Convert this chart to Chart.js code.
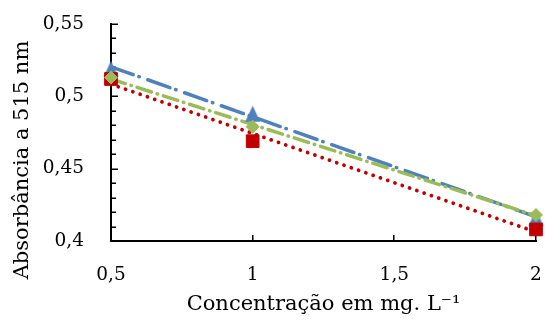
<!DOCTYPE html>
<html><head><meta charset="utf-8">
<script src="https://cdn.jsdelivr.net/npm/chart.js@4/dist/chart.umd.min.js"></script>
<style>html,body{margin:0;padding:0;background:#fff;}#wrap{width:546px;height:323px;}</style>
</head><body><div id="wrap"><canvas id="c" width="546" height="323"></canvas></div>
<script>
const xValues = [0.5, 1, 2];
const blueValues = [0.519, 0.488, 0.416];
const redValues = [0.512, 0.469, 0.408];
const greenValues = [0.513, 0.479, 0.418];
const xTickValues = [0.5, 1, 1.5, 2];
const xTickLabels = ['0,5', '1', '1,5', '2'];
const yTickValues = [0.4, 0.45, 0.5, 0.55];
const yTickLabels = ['0,4', '0,45', '0,5', '0,55'];
const xTitle = 'Concentração em mg. L⁻¹';
const yTitle = 'Absorbância a 515 nm';

const BLUE = '#4F81BD', RED = '#C00000', GREEN = '#9BBB59';
const FONT = '"DejaVu Serif", serif';

function pts(xs, ys) { return xs.map((x, i) => ({x: x, y: ys[i]})); }
function trend(xs, ys) {
  const n = xs.length;
  const mx = xs.reduce((a, b) => a + b, 0) / n;
  const my = ys.reduce((a, b) => a + b, 0) / n;
  let sxy = 0, sxx = 0;
  for (let i = 0; i < n; i++) { sxy += (xs[i] - mx) * (ys[i] - my); sxx += (xs[i] - mx) * (xs[i] - mx); }
  const b = sxy / sxx, a = my - b * mx;
  const x0 = Math.min(...xs), x1 = Math.max(...xs);
  return [{x: x0, y: a + b * x0}, {x: x1, y: a + b * x1}];
}

// Excel-like isosceles triangle marker
function triangleMarker(w, h, color) {
  const c = document.createElement('canvas');
  c.width = w + 2; c.height = h + 2;
  const g = c.getContext('2d');
  g.fillStyle = color;
  g.beginPath();
  g.moveTo(c.width / 2, 1);
  g.lineTo(c.width - 1, c.height - 1);
  g.lineTo(1, c.height - 1);
  g.closePath();
  g.fill();
  return c;
}

const innerTicks = {
  id: 'innerTicks',
  beforeDatasetsDraw(chart) {
    const ctx = chart.ctx, xs = chart.scales.x, ys = chart.scales.y, area = chart.chartArea;
    ctx.save();
    ctx.strokeStyle = '#000';
    ctx.lineWidth = 1.5;
    const step = (yTickValues[1] - yTickValues[0]) / 5;
    const nMinor = Math.round((yTickValues[yTickValues.length - 1] - yTickValues[0]) / step);
    for (let i = 0; i <= nMinor; i++) {
      const v = yTickValues[0] + i * step;
      const p = Math.round(ys.getPixelForValue(v)) + 0.25;
      const len = (i % 5 === 0) ? 7 : 5;
      ctx.beginPath(); ctx.moveTo(area.left, p); ctx.lineTo(area.left + len, p); ctx.stroke();
    }
    xTickValues.forEach(v => {
      const p = Math.round(xs.getPixelForValue(v)) - 0.25;
      ctx.beginPath(); ctx.moveTo(p, area.bottom); ctx.lineTo(p, area.bottom - 6); ctx.stroke();
    });
    ctx.restore();
  },
  afterDraw(chart) {
    const ctx = chart.ctx;
    ctx.save();
    ctx.translate(23, 160);
    ctx.rotate(-Math.PI / 2);
    ctx.font = '21px ' + FONT;
    ctx.fillStyle = '#000';
    ctx.textAlign = 'center';
    ctx.textBaseline = 'middle';
    ctx.fillText(yTitle, 0, 0);
    ctx.restore();
  }
};

new Chart(document.getElementById('c'), {
  type: 'scatter',
  data: {
    datasets: [
      {label: 'Série 3', data: pts(xValues, greenValues), pointStyle: 'rectRot', pointRadius: 6.5,
       backgroundColor: GREEN, borderColor: GREEN, pointBorderWidth: 1, order: 1, clip: false},
      {label: 'Série 2', data: pts(xValues, redValues), pointStyle: 'rect', pointRadius: 9,
       backgroundColor: RED, borderColor: RED, pointBorderWidth: 1, order: 2, clip: false},
      {label: 'Série 1', data: pts(xValues, blueValues), pointStyle: triangleMarker(15, 16, BLUE), pointRadius: 8,
       backgroundColor: BLUE, borderColor: BLUE, pointBorderWidth: 1, order: 3, clip: false},
      {label: 'Tendência 3', data: trend(xValues, greenValues), showLine: true, pointRadius: 0,
       borderColor: GREEN, borderWidth: 3.5, borderDash: [15, 6, 0.5, 6], borderCapStyle: 'round', order: 4, clip: false},
      {label: 'Tendência 2', data: trend(xValues, redValues), showLine: true, pointRadius: 0,
       borderColor: RED, borderWidth: 3.8, borderDash: [0.01, 7.7], borderCapStyle: 'round', order: 5, clip: false},
      {label: 'Tendência 1', data: trend(xValues, blueValues), showLine: true, pointRadius: 0,
       borderColor: BLUE, borderWidth: 3.5, borderDash: [23.5, 6, 0.5, 9], borderCapStyle: 'round', order: 6, clip: false}
    ]
  },
  options: {
    responsive: false,
    animation: false,
    devicePixelRatio: 1,
    font: {family: FONT},
    layout: {padding: {top: 24, right: 8, left: 0, bottom: 0}},
    plugins: {legend: {display: false}, tooltip: {enabled: false}},
    scales: {
      x: {
        type: 'linear', min: xTickValues[0], max: xTickValues[xTickValues.length - 1],
        afterBuildTicks(s) { s.ticks = xTickValues.map(v => ({value: v})); },
        afterFit(s) { s.height = 82; s.paddingLeft = 0; s.paddingRight = 0; },
        grid: {display: false, drawTicks: false},
        border: {display: true, color: '#000', width: 2},
        ticks: {padding: 23, color: '#000', autoSkip: false, maxRotation: 0,
                font: {family: FONT, size: 18.5},
                callback: (v, i) => xTickLabels[i]},
        title: {display: true, text: xTitle, color: '#000', font: {family: FONT, size: 21},
                padding: {top: 0, bottom: 6}}
      },
      y: {
        type: 'linear', min: yTickValues[0], max: yTickValues[yTickValues.length - 1],
        afterBuildTicks(s) { s.ticks = yTickValues.map(v => ({value: v})); },
        afterFit(s) { s.width = 111; s.paddingTop = 0; s.paddingBottom = 0; },
        grid: {display: false, drawTicks: false},
        border: {display: true, color: '#000', width: 2},
        ticks: {padding: 27, color: '#000', autoSkip: false,
                font: {family: FONT, size: 18.5},
                callback: (v, i) => yTickLabels[i]}
      }
    }
  },
  plugins: [innerTicks]
});
</script>
</body></html>
